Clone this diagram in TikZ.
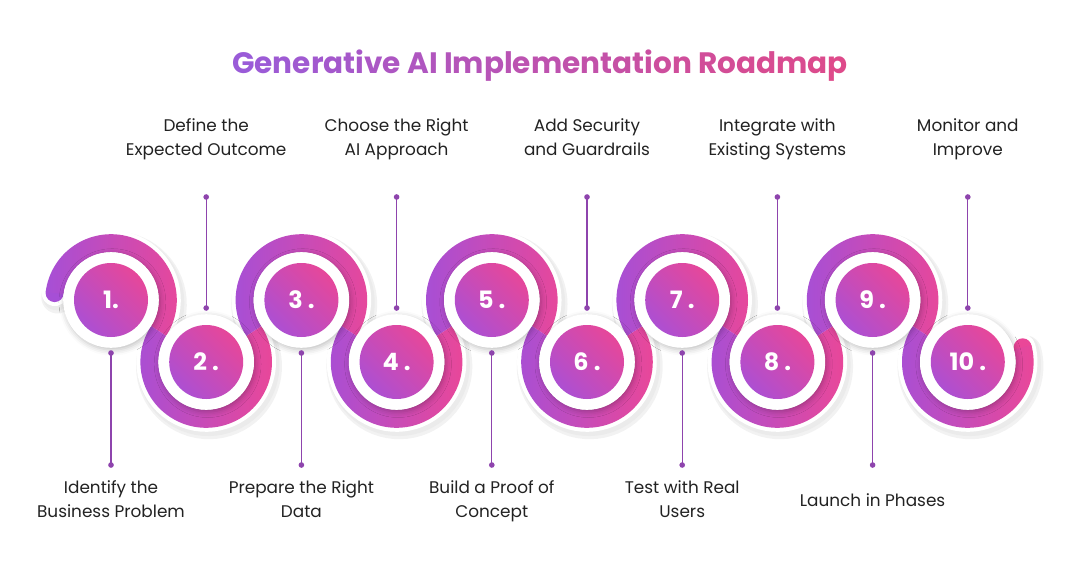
\documentclass[tikz,border=0pt]{standalone}
\usepackage{fontspec}
\setmainfont{Poppins}
\usetikzlibrary{calc,shadows.blur}

\definecolor{bandL}{HTML}{A64FD6}
\definecolor{bandR}{HTML}{EA4798}
\definecolor{diskL}{HTML}{AD4FD2}
\definecolor{diskR}{HTML}{E6479A}
\definecolor{leadC}{HTML}{8E44AD}
\definecolor{titleL}{HTML}{9A5BD8}
\definecolor{titleR}{HTML}{DE4A8A}
\definecolor{textC}{HTML}{222222}

% letter by letter colour ramp for the title
\makeatletter
\newcount\tpos
\newcommand\gw[1]{\@tfor\tch:=#1\do{%
  \pgfmathtruncatemacro\tmix{100*\the\tpos/32}%
  \textcolor{titleR!\tmix!titleL}{\tch}\global\advance\tpos by 1}}
\makeatother

\tikzset{
  ring/.style={fill=white, blur shadow={shadow xshift=1pt, shadow yshift=-1.5pt,
    shadow blur radius=4pt, shadow opacity=25}},
  disk/.style={left color=diskL, right color=diskR, shading angle=135},
  numtext/.style={text=white, font=\fontsize{17}{17}\selectfont\bfseries},
  steplabel/.style={text=textC, align=center, font=\fontsize{12}{17}\selectfont,
    execute at begin node=\strut, execute at end node=\strut},
  leader/.style={draw=leadC, line width=0.9pt},
  leaddot/.style={fill=leadC, circle, inner sep=0pt, minimum size=4pt}
}

\begin{document}
\begin{tikzpicture}[x=0.025cm, y=0.025cm]
\useasboundingbox (0,0) rectangle (1080,562);
\def\R{56.8} \def\Ro{65.8} \def\Ri{47.8} \def\th{33.08}

% title
\node[font=\fontsize{21}{21}\selectfont\bfseries] (title) at (540,496)
  {\gw{Generative} \gw{AI} \gw{Implementation} \gw{Roadmap}};

% centres
\foreach \i in {1,...,10}{
  \pgfmathsetmacro\cx{111+95.2*(\i-1)}
  \pgfmathsetmacro\cy{mod(\i,2)==1 ? 262 : 200}
  \coordinate (c\i) at (\cx,\cy);
}

% shadow and white border of the band
\foreach \lw/\lc/\sx/\sy in {23pt/black!5/2pt/-3pt, 20.5pt/black!8/1.5pt/-2pt, 18.5pt/white/0pt/0pt}{
  \draw[draw=\lc, line width=\lw, line cap=round, transform canvas={shift={(\sx,\sy)}}]
    ($(c1)+(173:\R)$) arc[start angle=173, end angle=-\th, radius=\R]
    \foreach \k in {1,...,4}{
      arc[start angle=180-\th, end angle=360+\th, radius=\R]
      arc[start angle=180+\th, end angle=-\th, radius=\R]}
    arc[start angle=180-\th, end angle=375, radius=\R];
}

% coloured band
\fill[bandL] ($(c1)+(173:\R)$) circle[radius=9];
\fill[bandR] ($(c10)+(15:\R)$) circle[radius=9];
\foreach \i in {1,...,10}{
  \pgfmathsetmacro\aa{mod(\i,2)==1 ? -\th : 180-\th}
  \pgfmathsetmacro\ab{mod(\i,2)==1 ? 180+\th : 360+\th}
  \ifnum\i=1 \def\ab{173}\fi
  \ifnum\i=10 \def\ab{375}\fi
  \shade[left color=bandL, right color=bandR]
    ($(c\i)+(\aa:\Ro)$) arc[start angle=\aa, end angle=\ab, radius=\Ro]
    -- ($(c\i)+(\ab:\Ri)$) arc[start angle=\ab, end angle=\aa, radius=\Ri] -- cycle;
}

% rings and numbered discs
\foreach \i in {1,...,10}{
  \fill[ring] (c\i) circle[radius=\Ri];
  \shade[disk] (c\i) circle[radius=37];
}
\node[numtext] (n1) at (c1) {1.};
\foreach \i in {2,...,10}
  \node[numtext] (n\i) at (c\i) {\i{} .};

% leaders
\foreach \i in {1,...,10}{
  \ifodd\i
    \coordinate (a\i) at ($(c\i)+(0,-53)$);
    \coordinate (b\i) at ($(c\i)+(0,-165)$);
  \else
    \coordinate (a\i) at ($(c\i)+(0,54)$);
    \coordinate (b\i) at ($(c\i)+(0,165)$);
  \fi
  \draw[leader] (a\i) -- (b\i);
  \node[leaddot] (da\i) at (a\i) {};
  \node[leaddot] (db\i) at (b\i) {};
}

% labels
\node[steplabel] (lab1) at (c1 |- 0,59) {Identify the\\Business Problem};
\node[steplabel] (lab3) at (c3 |- 0,59) {Prepare the Right\\Data};
\node[steplabel] (lab5) at (c5 |- 0,59) {Build a Proof of\\Concept};
\node[steplabel] (lab7) at (c7 |- 0,59) {Test with Real\\Users};
\node[steplabel] (lab9) at (c9 |- 0,60.5) {Launch in Phases};
\node[steplabel] (lab2) at (c2 |- 0,421.5) {Define the\\Expected Outcome};
\node[steplabel] (lab4) at (c4 |- 0,421.5) {Choose the Right\\AI Approach};
\node[steplabel] (lab6) at (c6 |- 0,421.5) {Add Security\\and Guardrails};
\node[steplabel] (lab8) at (c8 |- 0,421.5) {Integrate with\\Existing Systems};
\node[steplabel] (lab10) at (c10 |- 0,421.5) {Monitor and\\Improve};
\end{tikzpicture}
\end{document}
